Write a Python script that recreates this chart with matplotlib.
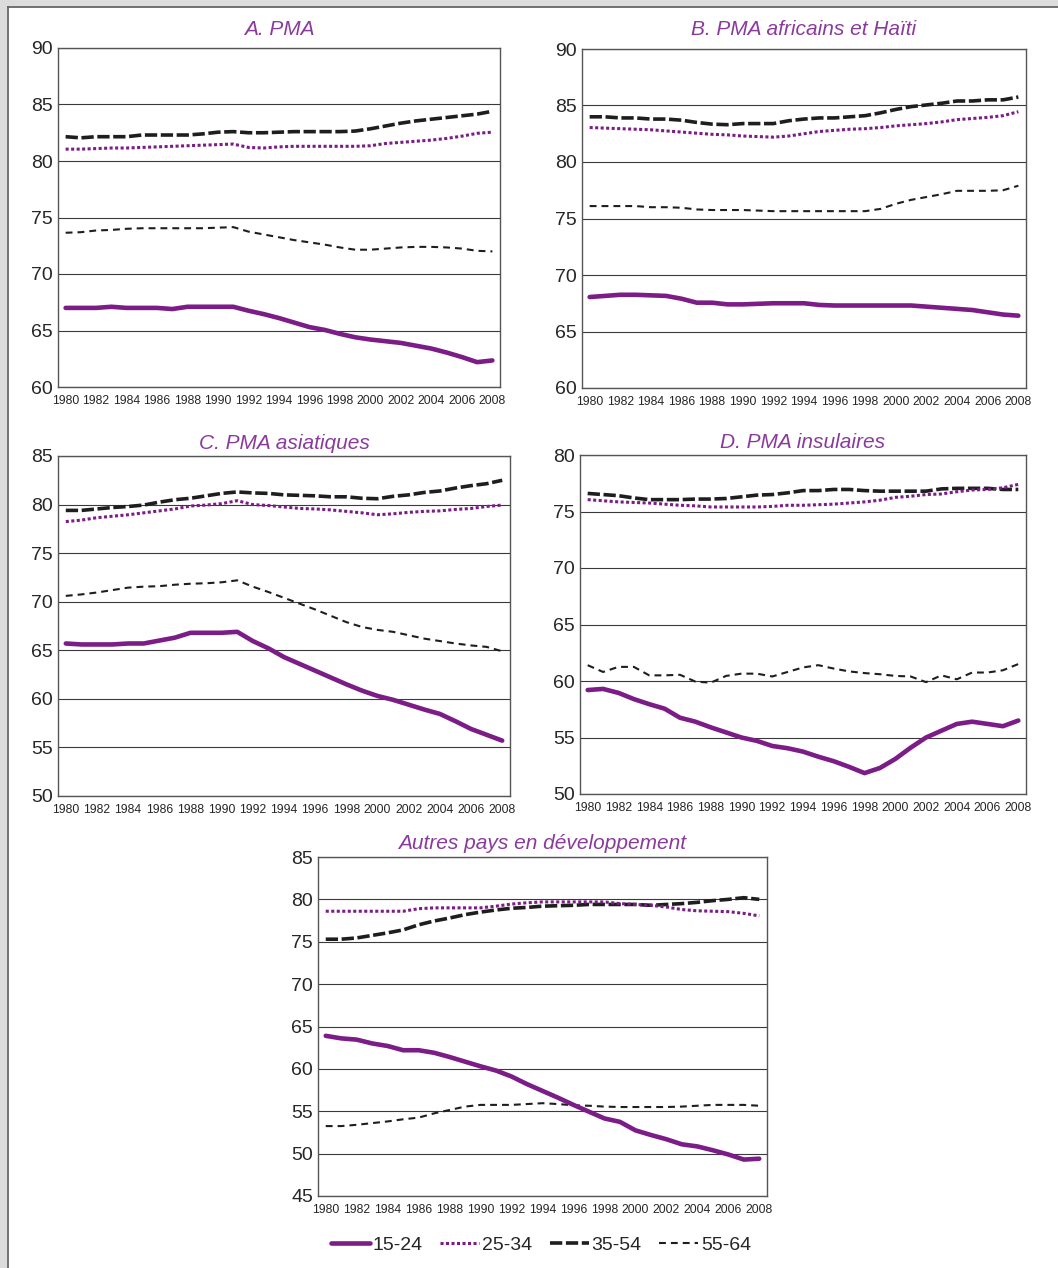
import matplotlib
matplotlib.use("Agg")
import matplotlib.pyplot as plt
from matplotlib.patches import Rectangle
from matplotlib.lines import Line2D

plt.rcParams['font.family'] = ['Liberation Sans', 'DejaVu Sans']

years = list(range(1980, 2009))
age_groups = ['15-24', '25-34', '35-54', '55-64']

# A. PMA
pma_1524 = [67.0, 67.0, 67.0, 67.1, 67.0, 67.0, 67.0, 66.9, 67.1, 67.1, 67.1, 67.1, 66.75, 66.45, 66.1,
            65.7, 65.3, 65.05, 64.7, 64.4, 64.2, 64.05, 63.9, 63.65, 63.4, 63.05, 62.65, 62.2, 62.35]
pma_2534 = [81.05, 81.05, 81.1, 81.15, 81.15, 81.2, 81.25, 81.3, 81.35, 81.4, 81.45, 81.5, 81.2, 81.15, 81.25,
            81.3, 81.3, 81.3, 81.3, 81.3, 81.35, 81.55, 81.65, 81.75, 81.85, 82.0, 82.2, 82.45, 82.55]
pma_3554 = [82.15, 82.05, 82.15, 82.15, 82.15, 82.3, 82.3, 82.3, 82.3, 82.4, 82.55, 82.6, 82.5, 82.5, 82.55,
            82.6, 82.6, 82.6, 82.6, 82.65, 82.85, 83.1, 83.35, 83.55, 83.7, 83.85, 84.0, 84.15, 84.4]
pma_5564 = [73.65, 73.7, 73.85, 73.9, 74.0, 74.05, 74.05, 74.05, 74.05, 74.05, 74.1, 74.15, 73.75, 73.5, 73.25,
            73.0, 72.8, 72.6, 72.35, 72.15, 72.15, 72.25, 72.35, 72.4, 72.4, 72.35, 72.25, 72.05, 72.0]

# B. PMA africains et Haïti
afr_1524 = [68.05, 68.15, 68.25, 68.25, 68.2, 68.15, 67.9, 67.55, 67.55, 67.4, 67.4, 67.45, 67.5, 67.5, 67.5,
            67.35, 67.3, 67.3, 67.3, 67.3, 67.3, 67.3, 67.2, 67.1, 67.0, 66.9, 66.7, 66.5, 66.4]
afr_2534 = [83.05, 83.0, 82.95, 82.9, 82.85, 82.75, 82.65, 82.55, 82.45, 82.4, 82.3, 82.25, 82.2, 82.3, 82.5,
            82.7, 82.8, 82.9, 82.95, 83.05, 83.2, 83.3, 83.4, 83.55, 83.75, 83.85, 83.95, 84.1, 84.45]
afr_3554 = [84.0, 84.0, 83.9, 83.9, 83.8, 83.8, 83.7, 83.5, 83.35, 83.3, 83.4, 83.4, 83.4, 83.65, 83.8,
            83.9, 83.9, 84.0, 84.1, 84.35, 84.65, 84.9, 85.05, 85.2, 85.4, 85.4, 85.5, 85.5, 85.75]
afr_5564 = [76.1, 76.1, 76.1, 76.1, 76.0, 76.0, 75.95, 75.8, 75.75, 75.75, 75.75, 75.7, 75.65, 75.65, 75.65,
            75.65, 75.65, 75.65, 75.65, 75.85, 76.3, 76.65, 76.9, 77.15, 77.45, 77.45, 77.45, 77.5, 77.9]

# C. PMA asiatiques
asi_1524 = [65.7, 65.6, 65.6, 65.6, 65.7, 65.7, 66.0, 66.3, 66.8, 66.8, 66.8, 66.9, 65.95, 65.2, 64.3,
            63.6, 62.9, 62.2, 61.5, 60.85, 60.3, 59.9, 59.4, 58.9, 58.45, 57.7, 56.9, 56.3, 55.7]
asi_2534 = [78.25, 78.4, 78.65, 78.8, 78.95, 79.15, 79.35, 79.55, 79.85, 79.95, 80.1, 80.4, 80.0, 79.9, 79.75,
            79.6, 79.55, 79.45, 79.3, 79.15, 78.95, 79.05, 79.2, 79.3, 79.35, 79.5, 79.6, 79.8, 79.95]
asi_3554 = [79.4, 79.4, 79.55, 79.7, 79.8, 79.95, 80.25, 80.5, 80.65, 80.9, 81.15, 81.3, 81.2, 81.15, 81.0,
            80.95, 80.9, 80.8, 80.8, 80.65, 80.6, 80.85, 81.0, 81.25, 81.4, 81.7, 81.95, 82.15, 82.5]
asi_5564 = [70.6, 70.75, 70.95, 71.2, 71.45, 71.55, 71.6, 71.75, 71.85, 71.9, 72.0, 72.2, 71.55, 71.0, 70.4,
            69.8, 69.2, 68.55, 67.9, 67.4, 67.1, 66.9, 66.55, 66.2, 65.95, 65.7, 65.5, 65.35, 64.9]

# D. PMA insulaires
ins_1524 = [59.2, 59.3, 58.95, 58.4, 57.95, 57.55, 56.75, 56.4, 55.9, 55.45, 55.0, 54.7, 54.25, 54.05, 53.75,
            53.3, 52.9, 52.4, 51.85, 52.3, 53.1, 54.1, 55.0, 55.6, 56.2, 56.4, 56.2, 56.0, 56.5]
ins_2534 = [76.05, 75.95, 75.85, 75.8, 75.75, 75.65, 75.55, 75.5, 75.4, 75.4, 75.4, 75.4, 75.45, 75.55, 75.55,
            75.6, 75.65, 75.75, 75.85, 76.0, 76.25, 76.35, 76.5, 76.55, 76.75, 76.9, 76.95, 77.1, 77.4]
ins_3554 = [76.6, 76.5, 76.4, 76.2, 76.05, 76.05, 76.05, 76.1, 76.1, 76.15, 76.3, 76.45, 76.5, 76.65, 76.85,
            76.85, 76.95, 76.95, 76.85, 76.8, 76.8, 76.8, 76.8, 77.0, 77.05, 77.05, 77.05, 76.95, 76.95]
ins_5564 = [61.4, 60.8, 61.25, 61.25, 60.5, 60.5, 60.55, 59.95, 59.85, 60.45, 60.65, 60.65, 60.4, 60.8, 61.2,
            61.4, 61.1, 60.85, 60.7, 60.6, 60.45, 60.4, 59.9, 60.5, 60.15, 60.75, 60.75, 60.95, 61.5]

# Autres pays en développement
apd_1524 = [63.9, 63.6, 63.45, 63.0, 62.7, 62.2, 62.2, 61.9, 61.4, 60.85, 60.3, 59.8, 59.1, 58.2, 57.4,
            56.6, 55.75, 54.95, 54.15, 53.75, 52.75, 52.2, 51.7, 51.1, 50.85, 50.4, 49.9, 49.3, 49.4]
apd_2534 = [78.6, 78.6, 78.6, 78.6, 78.6, 78.6, 78.9, 79.0, 79.0, 79.0, 79.0, 79.2, 79.45, 79.6, 79.7,
            79.7, 79.7, 79.7, 79.7, 79.5, 79.4, 79.3, 79.1, 78.8, 78.65, 78.6, 78.55, 78.35, 78.05]
apd_3554 = [75.3, 75.3, 75.45, 75.75, 76.05, 76.4, 77.0, 77.45, 77.8, 78.2, 78.5, 78.75, 78.95, 79.05, 79.2,
            79.25, 79.3, 79.4, 79.4, 79.4, 79.4, 79.3, 79.4, 79.5, 79.65, 79.85, 80.0, 80.2, 80.0]
apd_5564 = [53.25, 53.25, 53.4, 53.6, 53.8, 54.05, 54.25, 54.75, 55.15, 55.55, 55.75, 55.75, 55.75, 55.85, 55.95,
            55.85, 55.7, 55.65, 55.55, 55.5, 55.5, 55.5, 55.5, 55.55, 55.65, 55.75, 55.75, 55.75, 55.65]

W, H = 1058, 1268
purple = '#7b1c87'
title_purple = '#8a3a9c'
dark = '#1e1e1e'


def rect(l, t, r, b):
    # pixel box -> figure fraction
    return [l / W, 1 - b / H, (r - l) / W, (b - t) / H]


fig = plt.figure(figsize=(W / 100, H / 100), dpi=100, facecolor='white')

# grey page margin on top and left
fig.add_artist(Rectangle((0, 1 - 7 / H), 1, 7 / H, transform=fig.transFigure, color='#dcdcdc', lw=0))
fig.add_artist(Rectangle((0, 0), 7 / W, 1, transform=fig.transFigure, color='#dcdcdc', lw=0))
fig.add_artist(Line2D([7.5 / W, 1], [1 - 6.5 / H, 1 - 6.5 / H], transform=fig.transFigure, color='#666666', lw=1.3))
fig.add_artist(Line2D([7.5 / W, 7.5 / W], [0, 1 - 6.5 / H], transform=fig.transFigure, color='#666666', lw=1.3))

panels = [
    ('A. PMA', (58, 48, 500, 387), (60, 90), 9.5, [pma_1524, pma_2534, pma_3554, pma_5564]),
    ('B. PMA africains et Haïti', (582, 49, 1026, 388), (60, 90), 10.0, [afr_1524, afr_2534, afr_3554, afr_5564]),
    ('C. PMA asiatiques', (58, 456, 510, 796), (50, 85), 5.0, [asi_1524, asi_2534, asi_3554, asi_5564]),
    ('D. PMA insulaires', (580, 455, 1026, 794), (50, 80), 5.0, [ins_1524, ins_2534, ins_3554, ins_5564]),
    ('Autres pays en développement', (318, 857, 767, 1196), (45, 85), 5.5, [apd_1524, apd_2534, apd_3554, apd_5564]),
]

handles = None
for title, box, ylim, tpad, series in panels:
    ax = fig.add_axes(rect(*box))
    s1524, s2534, s3554, s5564 = series
    h4, = ax.plot(years, s5564, color=dark, lw=1.5, dashes=(3.3, 2.4))
    h3, = ax.plot(years, s3554, color=dark, lw=2.6, dashes=(3.4, 1.0))
    h2, = ax.plot(years, s2534, color=purple, lw=2.2, dashes=(1.0, 0.8))
    h1, = ax.plot(years, s1524, color=purple, lw=3.3, solid_capstyle='round', solid_joinstyle='round')
    if handles is None:
        handles = [h1, h2, h3, h4]

    ax.set_xlim(1979.5, 2008.5)
    ax.set_xticks(range(1980, 2009, 2))
    ax.set_ylim(*ylim)
    ax.set_yticks(range(ylim[0], ylim[1] + 1, 5))
    ax.yaxis.grid(True, color='#3a3a3a', lw=0.8)
    ax.set_axisbelow(True)
    ax.tick_params(axis='y', length=0, pad=3.5, labelsize=14, labelcolor='#262626')
    ax.tick_params(axis='x', length=0, pad=6, labelsize=8.8, labelcolor='#262626')
    for sp in ax.spines.values():
        sp.set_color('#555555')
        sp.set_linewidth(1.0)
    ax.set_title(title, fontsize=15, style='italic', color=title_purple, pad=tpad)

fig.legend(handles, age_groups, loc='center', bbox_to_anchor=(541 / W, 1 - 1245 / H), ncol=4,
           frameon=False, fontsize=14, handlelength=2.0, handletextpad=0.15, columnspacing=0.9,
           labelcolor='#262626')

fig.savefig('out.png', dpi=100, facecolor='white')
